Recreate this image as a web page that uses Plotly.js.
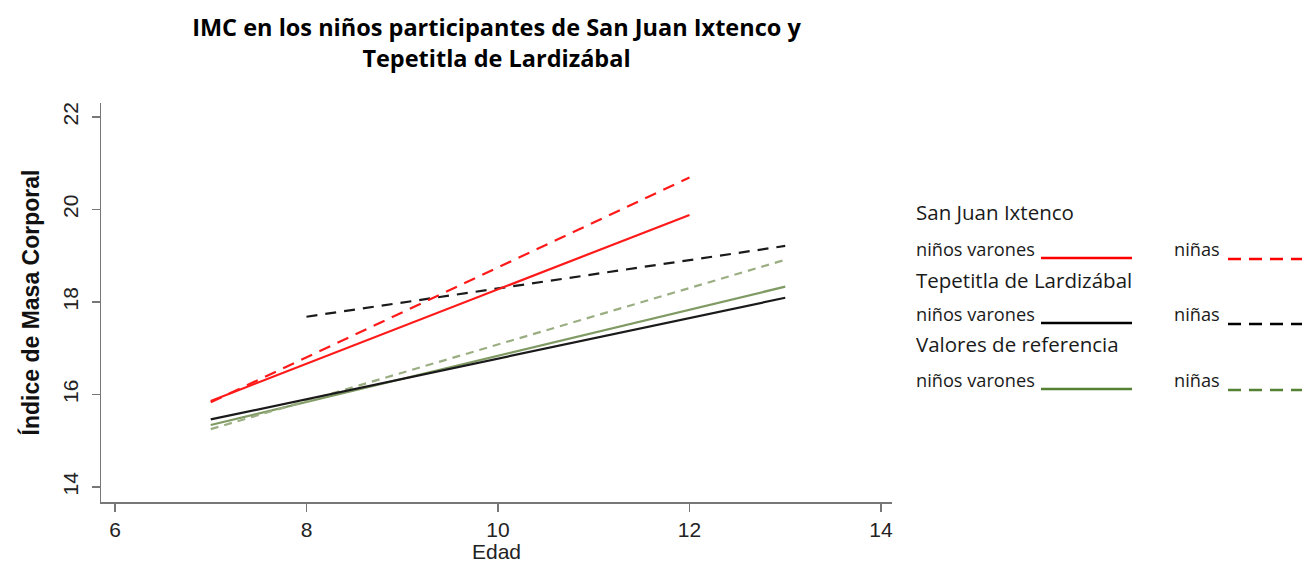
<!DOCTYPE html>
<html>
<head>
<meta charset="utf-8">
<script src="https://cdn.plot.ly/plotly-3.0.1.min.js"></script>
<style>html,body{margin:0;padding:0;background:#fff;}#chart{width:1302px;height:563px;}</style>
</head>
<body>
<div id="chart"></div>
<script>
// Data (Edad vs Índice de Masa Corporal)
const sjBoysAge = [7, 12];
const sjBoysIMC = [15.86, 19.88];
const sjGirlsAge = [7, 12];
const sjGirlsIMC = [15.83, 20.69];
const tepBoysAge = [7, 13];
const tepBoysIMC = [15.46, 18.09];
const tepGirlsAge = [8, 13];
const tepGirlsIMC = [17.68, 19.21];
const refBoysAge = [7, 13];
const refBoysIMC = [15.34, 18.33];
const refGirlsAge = [7, 13];
const refGirlsIMC = [15.25, 18.91];

const xTicks = [6, 8, 10, 12, 14];
const yTicks = [14, 16, 18, 20, 22];

const groupNames = ['San Juan Ixtenco', 'Tepetitla de Lardizábal', 'Valores de referencia'];
const boysLabel = 'niños varones';
const girlsLabel = 'niñas';

const W = 1302, H = 563;
const M = {l: 101, r: 410, t: 103, b: 61};
const PW = W - M.l - M.r, PH = H - M.t - M.b;
const px = p => (p - M.l) / PW;
const py = p => (H - M.b - p) / PH;

function tr(x, y, color, dash, width) {
  return {x: x, y: y, type: 'scatter', mode: 'lines', showlegend: false, hoverinfo: 'skip',
          line: {color: color, dash: dash, width: width}};
}

const RED = '#ff1a1a', BLACK = '#1a1a1a', GREEN_S = '#7f9a62', GREEN_D = '#9aae82';

const data = [
  tr(refBoysAge, refBoysIMC, GREEN_S, 'solid', 2.2),
  tr(refGirlsAge, refGirlsIMC, GREEN_D, '8px,6px', 2.2),
  tr(tepBoysAge, tepBoysIMC, BLACK, 'solid', 2.2),
  tr(tepGirlsAge, tepGirlsIMC, BLACK, '11px,8px', 2.2),
  tr(sjBoysAge, sjBoysIMC, RED, 'solid', 2.2),
  tr(sjGirlsAge, sjGirlsIMC, RED, '12px,8px', 2.2)
];

const legFont = "'Open Sans', 'Noto Sans', sans-serif";
const axFont = "'Liberation Sans', Arial, sans-serif";
const annotations = [];
const shapes = [];
function txt(t, x, y, size) {
  annotations.push({text: t, xref: 'paper', yref: 'paper', x: px(x), y: py(y),
    xanchor: 'left', yanchor: 'middle', showarrow: false,
    font: {family: legFont, size: size, color: '#1a1a1a'}});
}
function seg(x0, x1, y, color, dash) {
  shapes.push({type: 'line', xref: 'paper', yref: 'paper', x0: px(x0), x1: px(x1), y0: py(y), y1: py(y),
    line: {color: color, width: 2.5, dash: dash}});
}
const legColors = ['#ff0000', '#000000', '#548235'];
const rowsY = [[212, 249, 258], [280, 314, 323], [344, 380, 389]];
for (let i = 0; i < 3; i++) {
  const [gy, ly, lny] = rowsY[i];
  txt(groupNames[i], 914, gy, 20.5);
  txt(boysLabel, 914, ly, 18.2);
  txt(girlsLabel, 1172, ly, 18.2);
  seg(1041, 1132, lny, legColors[i], 'solid');
  seg(1228, 1302, lny + 1, legColors[i], '13px,8px');
}

const layout = {
  width: W, height: H,
  margin: M,
  paper_bgcolor: '#ffffff', plot_bgcolor: '#ffffff',
  title: {
    text: 'IMC en los niños participantes de San Juan Ixtenco y<br>Tepetitla de Lardizábal',
    font: {family: legFont, size: 23.5, color: '#000', weight: 700},
    x: 0.5, xref: 'paper', xanchor: 'center', y: 1 - 36 / H, yanchor: 'middle', yref: 'container'
  },
  xaxis: {
    range: [5.854, 14.115], tickvals: xTicks, ticktext: xTicks.map(String),
    showgrid: false, zeroline: false, showline: true, linecolor: '#777', linewidth: 1.5,
    ticks: 'outside', ticklen: 8, tickcolor: '#777', tickwidth: 1.5,
    tickfont: {family: axFont, size: 21, color: '#222'},
    title: {text: 'Edad', font: {family: axFont, size: 21, color: '#222'}, standoff: 0},
    fixedrange: true
  },
  yaxis: {
    range: [13.675, 22.3], tickvals: yTicks, ticktext: yTicks.map(String),
    showgrid: false, zeroline: false, showline: true, linecolor: '#777', linewidth: 1.5,
    ticks: 'outside', ticklen: 8, tickcolor: '#777', tickwidth: 1.5, tickangle: -90,
    ticklabelstandoff: 5,
    tickfont: {family: axFont, size: 21, color: '#222'},
    title: {text: 'Índice de Masa Corporal', font: {family: axFont, size: 23, color: '#111', weight: 700}, standoff: 13},
    fixedrange: true
  },
  annotations: annotations,
  shapes: shapes,
  showlegend: false
};

Plotly.newPlot('chart', data, layout, {staticPlot: true, displayModeBar: false});
</script>
</body>
</html>
